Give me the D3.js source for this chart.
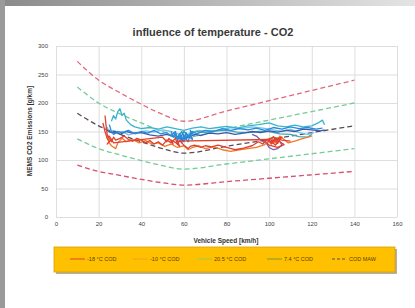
<!DOCTYPE html>
<html>
<head>
<meta charset="utf-8">
<title>influence of temperature - CO2</title>
<style type="text/css">
	body { margin: 0; background: #fff; }
	#chart { display: block; }
	.tick text { font-family: Arial, "Liberation Sans", sans-serif; font-size: 6px; fill: #444; }
	.grid line { stroke: #d6d6d6; stroke-width: 0.8px; }
	.grid path { display: none; }
	.title { font-family: Arial, "Liberation Sans", sans-serif; font-size: 11px; font-weight: bold; fill: #3a3a3a; text-anchor: middle; }
	.axisTitle { font-family: Arial, "Liberation Sans", sans-serif; font-size: 6.5px; font-weight: bold; fill: #333; text-anchor: middle; }
	.legText { font-family: Arial, "Liberation Sans", sans-serif; font-size: 5.5px; fill: #5a4000; }
</style>
</head>
<body>
<svg id="chart" width="415" height="308"></svg>
<script src="https://cdn.jsdelivr.net/npm/d3@7"></script>
<script>

// x ticks / y ticks
var xTicks = [0, 20, 40, 60, 80, 100, 120, 140, 160];
var yTicks = [0, 50, 100, 150, 200, 250, 300];

// speeds where the dashed bands were read
var bandSpeed = [10, 20, 30, 40, 50, 60, 80, 100, 120, 140];
var redUpper   = [273, 240, 218, 198, 180, 168, 186, 204, 222, 240];
var greenUpper = [228, 200, 181, 165, 150, 140, 155, 170, 185, 200];
var middle     = [182, 160, 145, 132, 120, 112, 124, 136, 148, 160];
var greenLower = [137, 120, 109, 99, 90, 84, 93, 102, 111, 120];
var redLower   = [91, 80, 73, 66, 60, 56, 62, 68, 74, 80];

// measured traces [speed, co2]
var traceRed = [[23,178],[23.5,160],[24,145],[25,138],[26,132],[27,140],[28,135],[30,138],[32,142],[34,136],[36,133],[38,138],[40,135],[42,130],[44,134],[46,128],[48,132],[50,126],[52,135],[54,130],[56,138],[57,128],[58,134],[60,126],[62,120],[63,124],[65,126],[68,122],[70,125],[73,123],[76,126],[80,122],[84,118],[88,121],[92,125],[95,132],[97,128],[99,136],[101,130],[103,138],[105,132],[107,127],[104,122],[100,126],[98,134],[102,140],[106,135],[110,133]];
var traceRedBlob = [[22,165],[23,150],[24,138],[25,132],[24,128],[26,136],[25,142],[27,130],[50,140],[52,132],[53,138],[55,128],[54,135],[56,131],[58,124],[57,133],[100,136],[101,128],[103,134],[102,141],[104,129],[105,137],[103,126],[101,133],[106,140],[104,131]];
var traceOrange = [[24,142],[25,130],[26,125],[28,120],[29,130],[31,138],[33,132],[36,136],[39,130],[42,134],[45,128],[48,130],[51,124],[54,128],[57,122],[60,125],[62,118],[64,122],[67,125],[70,120],[74,123],[78,118],[82,115],[86,118],[90,120],[94,122],[98,127],[101,138],[103,130],[105,142],[107,136],[109,130],[112,133],[116,138],[120,142]];
var traceNavy = [[24,152],[26,148],[28,150],[30,145],[33,150],[36,147],[40,148],[44,144],[48,142],[52,145],[56,140],[59,136],[62,140],[65,145],[68,143],[72,147],[76,146],[80,148],[84,145],[88,147],[92,150],[96,148],[100,151],[104,149],[108,152],[112,150],[116,154],[120,153],[124,151],[126,153]];
var traceBlue = [[25,162],[26,150],[27,145],[29,150],[31,148],[34,152],[37,146],[40,150],[43,147],[46,152],[49,146],[52,148],[54,142],[56,150],[57,138],[58,146],[60,132],[61,148],[62,140],[64,150],[66,146],[70,152],[74,150],[78,155],[82,152],[86,155],[90,153],[94,156],[98,152],[102,157],[106,154],[110,158],[114,155],[118,157],[122,154],[125,156]];
var traceBlueBlob = [[54,150],[55,140],[56,146],[57,134],[58,142],[59,130],[60,144],[61,136],[59,148],[62,132],[63,145],[61,140],[58,137],[60,150],[62,143],[64,136],[63,152],[65,142]];
var traceCyan = [[26,168],[27,178],[28,172],[29,185],[30,190],[31,178],[32,182],[33,170],[35,162],[37,158],[40,155],[44,157],[48,154],[52,158],[56,155],[60,152],[64,156],[68,158],[72,155],[76,157],[80,159],[85,156],[90,160],[95,162],[100,165],[104,160],[108,158],[112,161],[116,158],[120,160],[123,165],[125,170],[126,162]];
var traceSky = [[24,158],[25,148],[27,152],[29,146],[31,150],[34,144],[38,148],[42,151],[46,149],[50,153],[54,150],[58,145],[60,140],[63,148],[67,152],[72,150],[77,153],[82,157],[87,155],[92,158],[97,156],[102,153],[106,150],[110,154],[114,148],[118,145],[121,148]];
var traceTeal = [[55,148],[57,140],[59,150],[61,136],[63,146],[66,150],[70,148],[75,151],[80,152],[85,149],[90,148],[95,150],[100,150],[105,146],[110,145],[114,141],[118,140],[120,145]];
var tracePurple = [[92,145],[94,142],[96,135],[99,128],[100,122],[102,118],[104,120],[106,126],[105,133],[102,135],[99,131]];

var legendLabels = ['-18 °C COD', '-10 °C COD', '20.5 °C COD', '7.4 °C COD', 'COD MAW'];
var legendColors = ['#e8402a', '#f4a020', '#9ccc50', '#7a9a30', '#555'];

var svg = d3.select('#chart');

// frame
var grad = svg.append('defs').append('linearGradient').attr('id', 'topbar');
grad.append('stop').attr('offset', '0%').attr('stop-color', '#8a8a8a');
grad.append('stop').attr('offset', '100%').attr('stop-color', '#e4e4e4');
svg.append('rect').attr('x', 0).attr('y', 0).attr('width', 415).attr('height', 6).attr('fill', 'url(#topbar)');
svg.append('rect').attr('x', 0).attr('y', 0).attr('width', 5).attr('height', 308).attr('fill', '#9a9a9a');

var x = d3.scaleLinear().domain([0, 160]).range([56, 397]);
var y = d3.scaleLinear().domain([0, 300]).range([217, 46]);

svg.append('g').attr('class', 'grid')
	.attr('transform', 'translate(0,46)')
	.call(d3.axisBottom(x).tickValues(xTicks).tickSize(171).tickFormat(''));
svg.append('g').attr('class', 'grid')
	.attr('transform', 'translate(56,0)')
	.call(d3.axisRight(y).tickValues(yTicks).tickSize(341).tickFormat(''));

var xAxis = svg.append('g')
	.attr('transform', 'translate(0,219)')
	.call(d3.axisBottom(x).tickValues(xTicks).tickSize(0));
xAxis.select('.domain').remove();

var yAxis = svg.append('g')
	.attr('transform', 'translate(51,0)')
	.call(d3.axisLeft(y).tickValues(yTicks).tickSize(0));
yAxis.select('.domain').remove();

var line = d3.line().x(function(d) { return x(d[0]); }).y(function(d) { return y(d[1]); });

function band(values, color) {
	svg.append('path')
		.datum(bandSpeed.map(function(s, i) { return [s, values[i]]; }))
		.attr('d', line.curve(d3.curveMonotoneX))
		.attr('fill', 'none')
		.attr('stroke', color)
		.attr('stroke-width', 1.3)
		.attr('stroke-dasharray', '5,3');
}

band(redUpper, '#e2687e');
band(greenUpper, '#72cc98');
band(middle, '#5a4a5a');
band(greenLower, '#72cc98');
band(redLower, '#d85070');

var traces = [
	[traceSky, '#6cc4ec'],
	[traceTeal, '#3aa8b8'],
	[traceNavy, '#3a5aa8'],
	[traceCyan, '#38b4d0'],
	[traceBlue, '#2a8ad8'],
	[traceBlueBlob, '#2a8ad8'],
	[tracePurple, '#7060a8'],
	[traceOrange, '#f07a2a'],
	[traceRed, '#e2402c'],
	[traceRedBlob, '#e2402c']
];

traces.forEach(function(t) {
	svg.append('path')
		.datum(t[0])
		.attr('d', line.curve(d3.curveLinear))
		.attr('fill', 'none')
		.attr('stroke', t[1])
		.attr('stroke-width', 1.3)
		.attr('stroke-linejoin', 'round');
});

svg.append('text').attr('class', 'title').attr('x', 213).attr('y', 36).text('influence of temperature -  CO2');
svg.append('text').attr('class', 'axisTitle').attr('x', 226).attr('y', 243).text('Vehicle Speed [km/h]');
svg.append('text').attr('class', 'axisTitle')
	.attr('transform', 'translate(32,131) rotate(-90)')
	.text('MEMS CO2 Emissions [g/km]');

// legend
svg.append('rect').attr('x', 56).attr('y', 249).attr('width', 341).attr('height', 25).attr('fill', '#8a7a50').attr('opacity', 0.6);
svg.append('rect').attr('x', 54).attr('y', 247).attr('width', 341).attr('height', 25).attr('fill', '#ffc000').attr('stroke', '#d6a000').attr('stroke-width', 0.8);

var legX = [70, 133, 197, 267, 332];
var leg = svg.selectAll('.leg').data(legendLabels).enter().append('g')
	.attr('class', 'leg')
	.attr('transform', function(d, i) { return 'translate(' + legX[i] + ',259)'; });
leg.append('line').attr('x1', 0).attr('x2', 15).attr('y1', 0).attr('y2', 0)
	.attr('stroke', function(d, i) { return legendColors[i]; })
	.attr('stroke-width', 1)
	.attr('stroke-dasharray', function(d, i) { return i === 4 ? '3,2' : null; });
leg.append('text').attr('class', 'legText').attr('x', 17).attr('y', 2).text(function(d) { return d; });

</script>
</body>
</html>
